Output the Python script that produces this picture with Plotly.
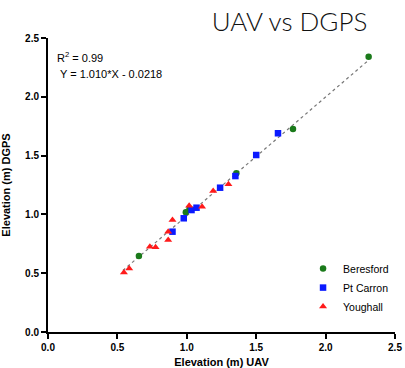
import plotly.graph_objects as go
import numpy as np

beresford_x = [0.655, 0.993, 1.02, 1.357, 1.765, 2.31]
beresford_y = [0.646, 1.018, 1.05, 1.35, 1.726, 2.34]

ptcarron_x = [0.897, 0.978, 1.034, 1.07, 1.24, 1.35, 1.50, 1.657]
ptcarron_y = [0.853, 0.967, 1.037, 1.057, 1.227, 1.326, 1.505, 1.69]

youghall_x = [0.547, 0.585, 0.734, 0.775, 0.866, 0.866, 0.897, 1.017, 1.11, 1.19, 1.30]
youghall_y = [0.507, 0.541, 0.725, 0.72, 0.782, 0.853, 0.952, 1.074, 1.066, 1.20, 1.256]

slope = 1.010
intercept = -0.0218
fit_range = [0.54, 2.31]

fit_x = np.linspace(fit_range[0], fit_range[1], 2)
fit_y = slope * fit_x + intercept

fig = go.Figure()
fig.add_trace(go.Scatter(x=fit_x, y=fit_y, mode="lines",
                         line=dict(color="#777777", width=1.2, dash="dot"),
                         showlegend=False, hoverinfo="skip"))
fig.add_trace(go.Scatter(x=beresford_x, y=beresford_y, mode="markers", name="Beresford",
                         marker=dict(symbol="circle", color="#1a7a1a", size=6.5)))
fig.add_trace(go.Scatter(x=ptcarron_x, y=ptcarron_y, mode="markers", name="Pt Carron",
                         marker=dict(symbol="square", color="#0a1aff", size=6.5)))
fig.add_trace(go.Scatter(x=youghall_x, y=youghall_y, mode="markers", name="Youghall",
                         marker=dict(symbol="triangle-up", color="#ff1a1a", size=7)))

axis_common = dict(
    range=[0, 2.5], dtick=0.5, tickformat=".1f",
    showline=True, linecolor="black", linewidth=2,
    ticks="outside", ticklen=5, tickwidth=2, tickcolor="black",
    showgrid=False, zeroline=False, automargin=False,
    tickfont=dict(family="Liberation Sans, Arial", size=10, color="black", weight="bold"),
)

fig.update_layout(
    width=405, height=368,
    margin=dict(l=48, r=10, t=38, b=36),
    paper_bgcolor="white", plot_bgcolor="white",
    title=dict(text="UAV vs DGPS", x=0.715, xanchor="center", y=0.94, yanchor="middle",
               font=dict(family="Lato", size=26, color="#111111", weight=300)),
    xaxis=dict(axis_common, title=dict(text="Elevation (m) UAV",
               font=dict(family="Liberation Sans, Arial", size=11, color="black", weight="bold"))),
    yaxis=dict(axis_common, title=dict(text="Elevation (m) DGPS",
               font=dict(family="Liberation Sans, Arial", size=11, color="black", weight="bold"))),
    legend=dict(x=0.735, y=0.265, xanchor="left", yanchor="top",
                font=dict(family="Liberation Sans, Arial", size=10.5, color="black"),
                bgcolor="rgba(0,0,0,0)", itemwidth=30, tracegroupgap=0),
    showlegend=True,
)

fig.add_annotation(x=0.05, y=2.34, xref="x", yref="y", xanchor="left", yanchor="middle",
                   text="R<sup>2</sup> = 0.99", showarrow=False,
                   font=dict(family="Liberation Sans, Arial", size=11, color="black"))
fig.add_annotation(x=0.07, y=2.19, xref="x", yref="y", xanchor="left", yanchor="middle",
                   text="Y = 1.010*X - 0.0218", showarrow=False,
                   font=dict(family="Liberation Sans, Arial", size=11, color="black"))

fig.write_html("out.html")
